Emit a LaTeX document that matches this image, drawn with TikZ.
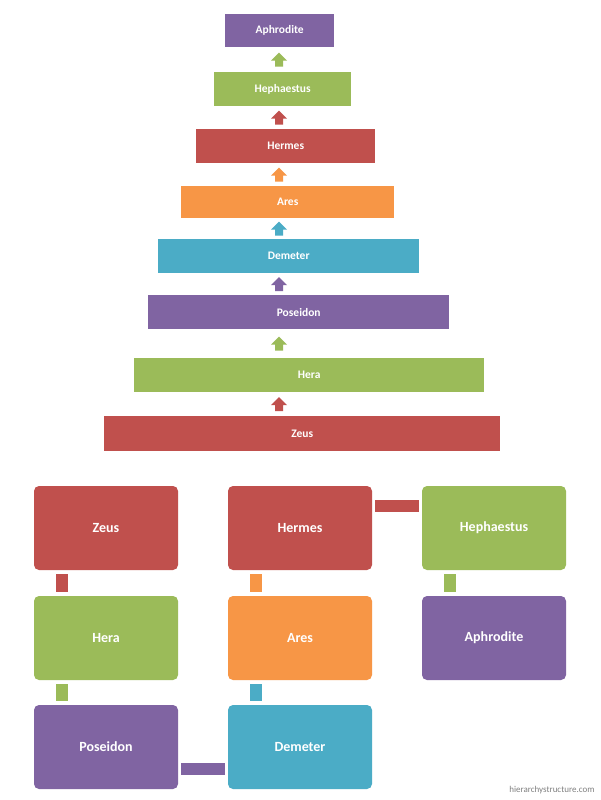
\documentclass[tikz,border=0pt]{standalone}
\usepackage{fontspec}
\setmainfont{Carlito}
\usetikzlibrary{calc}
\definecolor{cr}{HTML}{C0504D}
\definecolor{cg}{HTML}{9BBB59}
\definecolor{cp}{HTML}{8064A2}
\definecolor{cb}{HTML}{4BACC6}
\definecolor{co}{HTML}{F79646}
\tikzset{
 tbox/.style={draw=none,text=white,font=\bfseries\fontsize{11.5}{13}\selectfont,anchor=north west,inner sep=0pt},
 gbox/.style={rounded corners=5pt,text=white,font=\bfseries\fontsize{14}{16}\selectfont,minimum width=144pt,minimum height=84pt,inner sep=0pt},
 conn/.style={line width=12pt},
}
\newcommand{\tb}[7]{\node[tbox,fill=#6,minimum width=#3pt-#2pt,minimum height=#5pt-#4pt] (#1) at (#2,#4) {}; \node[text=white,font=\bfseries\fontsize{11.5}{13}\selectfont] at (#1.center) {#7};}
\newcommand{\uparr}[3]{\coordinate (#1) at ($(#2.north)!0.5!(#3.south)$); \fill[#3col] ($(#1)+(-279pt,0)$) ;}
\begin{document}
\begin{tikzpicture}[x=1pt,y=-1pt]
\useasboundingbox (0,0) rectangle (600,800);
\fill[white] (0,0) rectangle (600,800);
\tb{ta}{225}{334}{14}{47}{cp}{Aphrodite}
\tb{th}{214}{351}{72}{106}{cg}{Hephaestus}
\tb{tm}{196}{375}{129}{163}{cr}{Hermes}
\tb{tr}{181}{394}{186}{218}{co}{Ares}
\tb{td}{158}{419}{239}{273}{cb}{Demeter}
\tb{tp}{148}{449}{295}{329}{cp}{Poseidon}
\tb{te}{134}{484}{358}{392}{cg}{Hera}
\tb{tz}{104}{500}{416}{451}{cr}{Zeus}
\foreach \up/\lo/\c in {ta/th/cg,th/tm/cr,tm/tr/co,tr/td/cb,td/tp/cp,tp/te/cg,te/tz/cr}{
 \path let \p1=(\up.south), \p2=(\lo.north) in
  coordinate (m) at (279,{(\y1+\y2)/2});
 \fill[\c] ($(m)+(-4,7)$) -- ++(0,-6) -- ++(-4,0) -- ++(8,-8) -- ++(8,8) -- ++(-4,0) -- ++(0,6) -- cycle;
}
\node[gbox,fill=cr] (bz) at (106,528) {Zeus};
\node[gbox,fill=cg] (be) at (106,638) {Hera};
\node[gbox,fill=cp] (bp) at (106,747) {Poseidon};
\node[gbox,fill=cb] (bd) at (300,747) {Demeter};
\node[gbox,fill=co] (br) at (300,638) {Ares};
\node[gbox,fill=cr] (bm) at (300,528) {Hermes};
\node[gbox,fill=cg] (bh) at (494,528) {Hephaestus};
\node[gbox,fill=cp] (ba) at (494,638) {Aphrodite};
\draw[conn,cr] ([xshift=-44pt,yshift=-4pt]bz.south) -- ([xshift=-44pt,yshift=4pt]be.north);
\draw[conn,cg] ([xshift=-44pt,yshift=-4pt]be.south) -- ([xshift=-44pt,yshift=4pt]bp.north);
\draw[conn,cp] ([xshift=3pt,yshift=-22pt]bp.east) -- ([xshift=-3pt,yshift=-22pt]bd.west);
\draw[conn,cb] ([xshift=-44pt,yshift=4pt]bd.north) -- ([xshift=-44pt,yshift=-4pt]br.south);
\draw[conn,co] ([xshift=-44pt,yshift=4pt]br.north) -- ([xshift=-44pt,yshift=-4pt]bm.south);
\draw[conn,cr] ([xshift=3pt,yshift=22pt]bm.east) -- ([xshift=-3pt,yshift=22pt]bh.west);
\draw[conn,cg] ([xshift=-44pt,yshift=-4pt]bh.south) -- ([xshift=-44pt,yshift=4pt]ba.north);
\node[text=gray,font=\fontsize{9}{10}\selectfont,anchor=east] (foot) at (598,790) {hierarchystructure.com};
\end{tikzpicture}
\end{document}
